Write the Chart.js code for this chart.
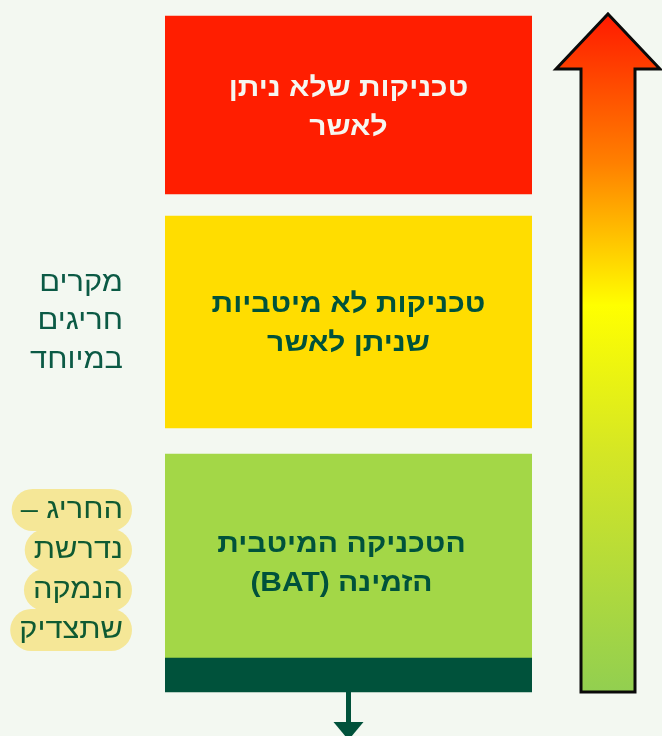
<!DOCTYPE html>
<html lang="he">
<head>
<meta charset="utf-8">
<script src="https://cdn.jsdelivr.net/npm/chart.js@4.4.1/dist/chart.umd.min.js"></script>
<style>
	html, body { margin: 0; padding: 0; background: #f3f8f1; }
	#wrap { width: 662px; height: 736px; position: relative; }
</style>
</head>
<body>
<div id="wrap"><canvas id="chart"></canvas></div>
<script>
// levels, measured upward from the bottom of the picture
const levelNames = ['dark', 'bat', 'approvable', 'forbidden'];
const levelRanges = [[44, 78], [78, 282], [308, 520], [542, 720]];
const levelColors = ['#00523b', '#a3d747', '#ffdd00', '#ff1e00'];
const levelLabels = [
	[],
	['הטכניקה המיטבית', 'הזמינה (BAT)'],
	['טכניקות לא מיטביות', 'שניתן לאשר'],
	['טכניקות שלא ניתן', 'לאשר']
];
const labelColors = ['#ffffff', '#00523b', '#00523b', '#f6f6f0'];
const labelCenters = [0, 172, 412, 628];

const sideNote = ['מקרים', 'חריגים', 'במיוחד'];
const sideNoteTop = 453;
const highlightNote = ['החריג –', 'נדרשת', 'הנמקה', 'שתצדיק'];
const highlightNoteTop = 226;

const arrowTip = 722, arrowNeck = 667, arrowBase = 44;

const ctx = document.getElementById('chart').getContext('2d');

// text is a bit wider in the original than in the fonts we have
function wideText(c, t, x, y, sx) {
	c.save();
	c.translate(x, y);
	c.scale(sx, 1);
	c.fillText(t, 0, 0);
	c.restore();
}

const decor = {
	id: 'decor',
	beforeDraw(chart) {
		const c = chart.ctx;
		c.save();
		c.fillStyle = '#f3f8f1';
		c.fillRect(0, 0, chart.width, chart.height);
		c.restore();
	},
	afterDatasetsDraw(chart) {
		const c = chart.ctx;
		const y = chart.scales.y;
		const area = chart.chartArea;
		const cx = (area.left + area.right) / 2;

		// box captions (the BAT caption sits a little left of centre)
		c.save();
		c.direction = 'rtl';
		c.textAlign = 'center';
		c.textBaseline = 'middle';
		c.font = 'bold 27px "Liberation Sans", "DejaVu Sans", sans-serif';
		levelLabels.forEach((lines, i) => {
			c.fillStyle = labelColors[i];
			const shift = i === 1 ? -7 : 0;
			lines.forEach((t, j) => {
				const py = y.getPixelForValue(labelCenters[i]) + (j - (lines.length - 1) / 2) * 39;
				wideText(c, t, cx + shift, py, 1.11);
			});
		});
		c.restore();

		// small arrow going down from the dark bar
		const bottom = y.getPixelForValue(arrowBase);
		c.save();
		c.fillStyle = '#00523b';
		c.fillRect(cx - 2.5, bottom, 5, 32);
		c.beginPath();
		c.moveTo(cx - 15, bottom + 30);
		c.lineTo(cx + 15, bottom + 30);
		c.lineTo(cx, bottom + 48);
		c.closePath();
		c.fill();
		c.restore();

		// big gradient arrow on the right
		const ax = area.right + 76;
		const tip = y.getPixelForValue(arrowTip);
		const neck = y.getPixelForValue(arrowNeck);
		const grad = c.createLinearGradient(0, tip, 0, bottom);
		grad.addColorStop(0, '#ff1a00');
		grad.addColorStop(0.22, '#ff8000');
		grad.addColorStop(0.43, '#ffff00');
		grad.addColorStop(0.65, '#d4e625');
		grad.addColorStop(1, '#92cf50');
		c.save();
		c.beginPath();
		c.moveTo(ax, tip);
		c.lineTo(ax + 52, neck);
		c.lineTo(ax + 27, neck);
		c.lineTo(ax + 27, bottom);
		c.lineTo(ax - 27, bottom);
		c.lineTo(ax - 27, neck);
		c.lineTo(ax - 52, neck);
		c.closePath();
		c.fillStyle = grad;
		c.fill();
		c.lineWidth = 3;
		c.lineJoin = 'miter';
		c.strokeStyle = '#0a0a0a';
		c.stroke();
		c.restore();

		// notes on the left
		const rx = area.left - 42;
		const sx = 1.1;
		c.save();
		c.direction = 'rtl';
		c.textAlign = 'right';
		c.textBaseline = 'middle';
		c.font = '28px "Liberation Sans", "DejaVu Sans", sans-serif';
		c.fillStyle = '#0b5a45';
		sideNote.forEach((t, j) => {
			wideText(c, t, rx, y.getPixelForValue(sideNoteTop) + j * 38.5, sx);
		});

		const hy = j => y.getPixelForValue(highlightNoteTop) + j * 40;
		highlightNote.forEach((t, j) => {
			const w = c.measureText(t).width * sx;
			c.fillStyle = '#f5e797';
			c.beginPath();
			c.roundRect(rx - w - 9, hy(j) - 21, w + 18, 42, 21);
			c.fill();
		});
		c.fillStyle = '#0f5a32';
		highlightNote.forEach((t, j) => {
			wideText(c, t, rx, hy(j), sx);
		});
		c.restore();
	}
};

const chart = new Chart(ctx, {
	type: 'bar',
	data: {
		labels: [''],
		datasets: levelNames.map((name, i) => ({
			label: name,
			data: [levelRanges[i]],
			backgroundColor: levelColors[i],
			borderWidth: 0,
			barPercentage: 1,
			categoryPercentage: 1,
			grouped: false,
		}))
	},
	options: {
		maintainAspectRatio: false,
		responsive: true,
		animation: false,
		layout: {
			padding: {
				top: 0,
				left: 165,
				right: 130,
				bottom: 0,
			}
		},
		plugins: {
			legend: { display: false },
			tooltip: { enabled: false },
		},
		scales: {
			x: { display: false },
			y: { display: false, min: 0, max: 736 }
		}
	},
	plugins: [decor]
});
</script>
</body>
</html>
